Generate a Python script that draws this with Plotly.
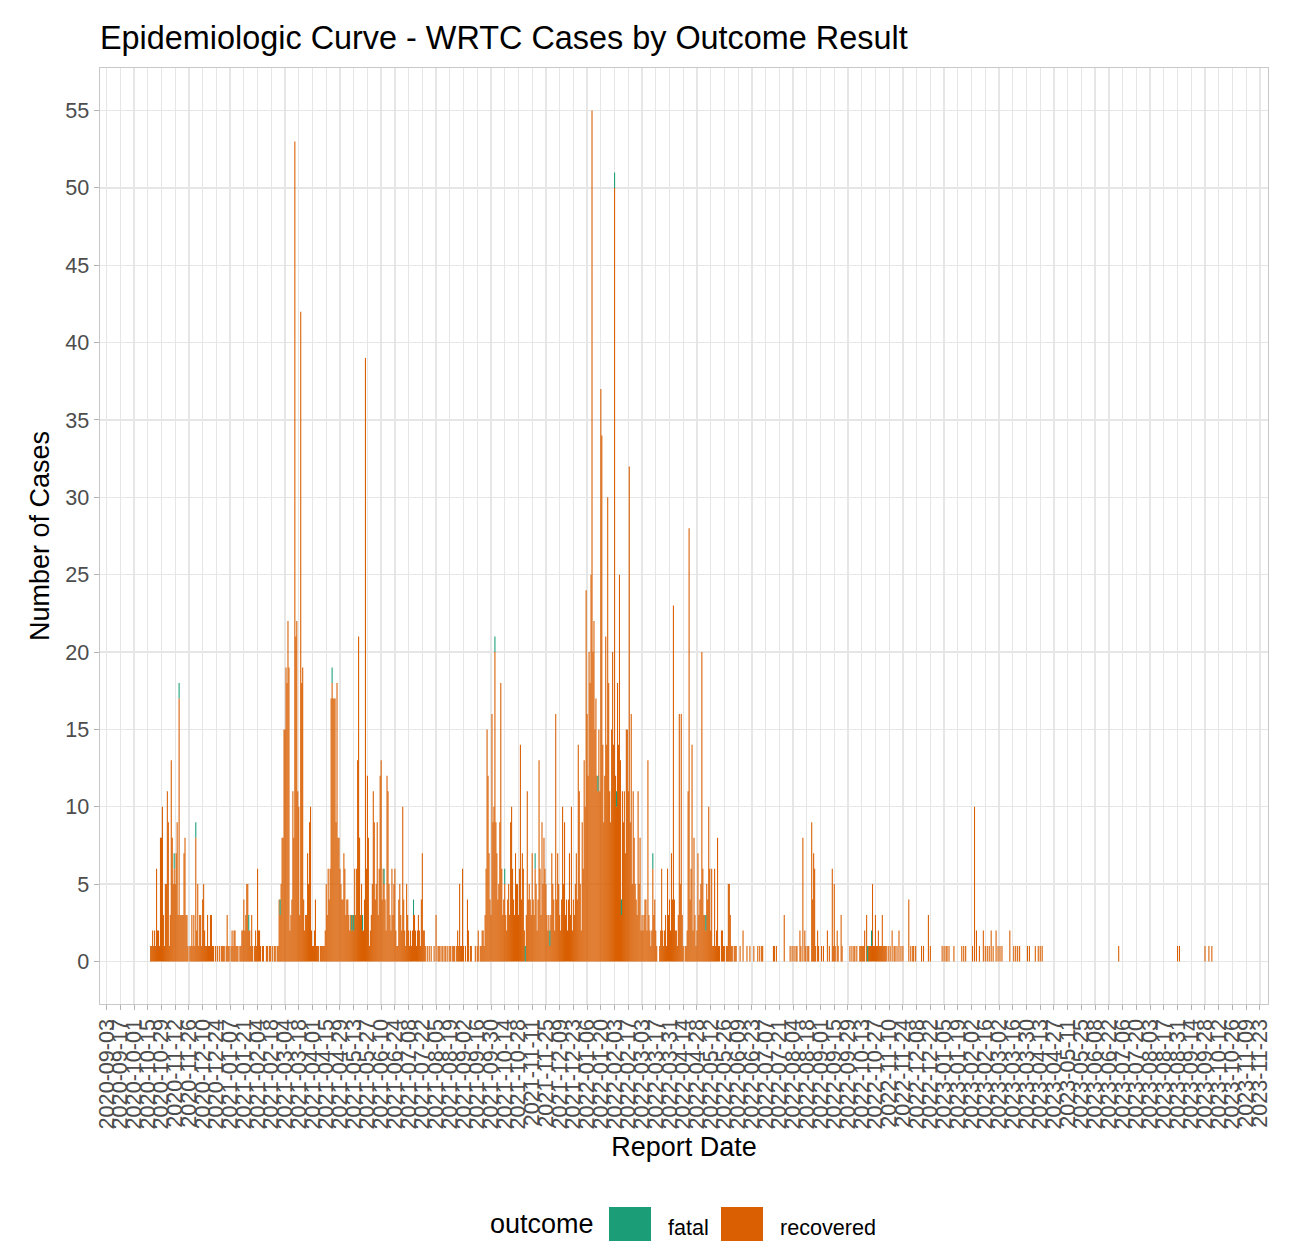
import pandas as pd
import plotly.graph_objects as go

# ---------------- data ----------------
# daily recovered counts, contiguous days starting at series_start
series_start = "2020-10-18"

recovered_wave1 = [
    1, 1, 2, 1, 2, 1, 6, 2, 2, 1,
    8, 8, 10, 3, 1, 5, 5, 11, 9, 1,
    3, 13, 8, 5, 6, 5, 7, 9, 3, 17,
    3, 3, 3, 3, 7, 8, 3, 3, 1, 0,
    1, 1, 3, 1, 3, 1, 8, 2, 5, 1,
    3, 3, 1, 4, 5, 2, 1, 1, 3, 1,
    1, 3, 3, 1, 1, 0, 1, 0, 1, 0,
    1, 0, 1, 1, 1, 1, 0, 1, 3, 1,
    1, 0, 1, 2, 1, 2, 2, 1, 1, 1,
    0, 1, 1, 2, 2, 4, 2, 3, 5, 5,
    2, 2, 1, 3, 1, 0, 1, 2, 1, 6,
    2, 2, 1, 0, 1, 1, 0, 0, 1, 1,
    0, 1, 1, 0, 1, 0, 1, 1, 0, 1,
    1, 4, 3,
]

recovered_wave2 = [
    5, 8, 8, 15, 15, 19, 18, 22, 19, 2,
    3, 4, 11, 8, 53, 21, 22, 11, 10, 3,
    42, 18, 19, 4, 2, 3, 3, 7, 5, 9,
    10, 2, 1, 1, 2, 4, 1, 1, 1, 0,
    1, 1, 1, 1, 1, 2, 5, 3, 6, 4,
    6, 17, 18, 17, 17, 17, 9, 18, 8, 8,
    6, 5, 4, 4, 7, 6, 3, 4, 4, 3,
    2, 3, 2, 3, 2, 6, 3, 6, 13, 21,
    8, 3, 5, 2, 2, 4, 39, 6, 12, 8,
    1, 2, 3, 5, 11, 9, 4, 5, 9, 3,
    6, 12, 13, 4, 6, 5, 4, 2, 12, 11,
    5, 3, 2, 6, 3, 5, 6, 2, 1, 1,
    4, 5, 3, 2, 10, 4, 2, 1, 5, 3,
    2, 1, 2, 1, 2, 3, 3, 2, 1, 2,
    3, 2, 1, 4, 7, 2, 2, 1, 0, 1,
    0, 1, 0, 1, 0, 0, 1, 0, 3, 0,
    1,
]

recovered_wave3 = [
    1, 1, 0, 1, 1, 0, 1, 1, 0, 1,
    0, 1, 1, 0, 1, 1, 1, 0, 1, 2,
    1, 5, 1, 1, 6, 1, 0, 1, 0, 4,
    2, 0, 1, 1, 0, 0, 0, 1, 0, 1,
    2, 0, 1, 1, 2, 2, 1, 3, 6, 15,
    12, 7, 4, 3, 16, 9, 10, 20, 9, 7,
    4, 5, 9, 18, 6, 3, 4, 5, 3, 2,
    4, 5, 3, 9, 10, 6, 4, 3, 7, 5,
    5, 3, 6, 14, 4, 7, 6, 2, 0, 3,
    11, 4, 5, 4, 3, 7, 4, 3, 6, 5,
    2, 4, 13, 6, 3, 9, 5, 8, 6, 5,
    3, 2, 3, 1, 3, 7, 5, 4, 2, 16,
    4, 7, 5, 3, 2, 4, 10, 5, 9, 3,
    4, 2, 4, 7, 3, 10, 2, 4, 3, 5,
    7, 4, 14, 11, 5, 2, 9, 6, 13, 10,
    24, 16,
]

recovered_wave4 = [
    12, 20, 18, 25, 55, 20, 22, 15, 17, 12,
    11, 15, 11, 37, 34, 14, 9, 12, 21, 14,
    30, 18, 11, 9, 15, 20, 14, 50, 12, 10,
    18, 14, 25, 13, 3, 11, 9, 11, 7, 15,
    15, 11, 32, 9, 16, 5, 11, 8, 5, 4,
    3, 11, 5, 8, 2, 3, 2, 3, 4, 4,
    2, 13, 3, 2, 1, 2, 6, 3, 4, 2,
    1, 0, 0, 1, 2, 6, 2, 1, 2, 3,
    1, 6, 3, 4, 2, 7, 4, 23, 4, 2,
    2, 1, 3, 16, 5, 16, 3, 1, 0, 1,
    1, 2, 11, 28, 4, 6, 14, 2, 8, 3,
    1, 2, 7, 3, 4, 5, 20, 6, 3, 3,
    2, 5, 4, 10, 6, 2, 6, 1, 1, 6,
    1, 2, 8, 1, 1, 0, 2, 2, 1, 1,
    0, 1, 1, 5, 5, 3, 1, 1, 0, 1,
    1, 1, 0, 0, 0, 1, 0, 0, 2, 0,
]

# sparse tail of recovered cases (report date, count)
tail_dates = [
    "2022-06-18", "2022-06-21", "2022-06-25", "2022-06-29", "2022-07-01", "2022-07-03",
    "2022-07-04", "2022-07-15", "2022-07-16", "2022-07-18", "2022-07-26", "2022-08-01",
    "2022-08-03", "2022-08-05", "2022-08-07", "2022-08-08", "2022-08-11", "2022-08-12",
    "2022-08-14", "2022-08-16", "2022-08-17", "2022-08-19", "2022-08-20", "2022-08-23",
    "2022-08-24", "2022-08-25", "2022-08-26", "2022-08-27", "2022-08-29", "2022-08-30",
    "2022-09-02", "2022-09-04", "2022-09-08", "2022-09-10", "2022-09-13", "2022-09-14",
    "2022-09-15", "2022-09-16", "2022-09-18", "2022-09-19", "2022-09-22", "2022-09-23",
    "2022-10-01", "2022-10-03", "2022-10-05", "2022-10-06", "2022-10-08", "2022-10-11",
    "2022-10-12", "2022-10-13", "2022-10-14", "2022-10-15", "2022-10-16", "2022-10-18",
    "2022-10-20", "2022-10-21", "2022-10-22", "2022-10-23", "2022-10-24", "2022-10-25",
    "2022-10-26", "2022-10-27", "2022-10-28", "2022-10-29", "2022-10-30", "2022-10-31",
    "2022-11-01", "2022-11-02", "2022-11-03", "2022-11-04", "2022-11-05", "2022-11-06",
    "2022-11-07", "2022-11-09", "2022-11-11", "2022-11-13", "2022-11-15", "2022-11-16",
    "2022-11-18", "2022-11-20", "2022-11-22", "2022-11-24", "2022-11-30", "2022-12-02",
    "2022-12-04", "2022-12-05", "2022-12-07", "2022-12-13", "2022-12-15", "2022-12-20",
    "2022-12-22", "2023-01-03", "2023-01-05", "2023-01-07", "2023-01-08", "2023-01-10",
    "2023-01-15", "2023-01-23", "2023-01-25", "2023-01-27", "2023-02-03", "2023-02-05",
    "2023-02-07", "2023-02-10", "2023-02-14", "2023-02-16", "2023-02-18", "2023-02-20",
    "2023-02-22", "2023-02-24", "2023-02-27", "2023-03-01", "2023-03-03", "2023-03-05",
    "2023-03-13", "2023-03-17", "2023-03-19", "2023-03-21", "2023-03-23", "2023-03-31",
    "2023-04-02", "2023-04-08", "2023-04-11", "2023-04-13", "2023-04-15", "2023-07-02",
    "2023-08-31", "2023-09-02", "2023-09-28", "2023-10-02", "2023-10-05",
]
tail_recovered = [
    1, 1, 1, 1, 1, 1,
    1, 1, 1, 1, 3, 1,
    1, 1, 1, 1, 2, 1,
    8, 2, 1, 1, 1, 9,
    4, 7, 6, 1, 2, 1,
    1, 1, 2, 1, 6, 1,
    5, 1, 2, 1, 3, 1,
    1, 1, 1, 1, 1, 1,
    1, 1, 1, 1, 2, 3,
    1, 1, 1, 1, 5, 1,
    1, 3, 1, 1, 2, 1,
    1, 1, 3, 1, 1, 1,
    1, 1, 1, 2, 1, 1,
    1, 2, 1, 1, 4, 1,
    1, 1, 1, 1, 1, 3,
    1, 1, 1, 1, 1, 1,
    1, 1, 1, 1, 1, 10,
    2, 1, 2, 1, 1, 1,
    2, 1, 2, 1, 1, 1,
    2, 1, 1, 1, 1, 1,
    1, 1, 1, 1, 1, 1,
    1, 1, 1, 1, 1,
]

# fatal cases (report date, count)
fatal_dates = [
    "2020-11-11", "2020-11-16", "2020-12-03", "2021-01-26", "2021-02-27",
    "2021-04-21", "2021-05-11", "2021-05-13", "2021-05-22", "2021-06-13",
    "2021-07-13", "2021-10-04", "2021-10-14", "2021-11-04", "2021-11-14",
    "2021-11-29", "2022-01-17", "2022-02-03", "2022-02-05", "2022-02-10",
    "2022-03-14", "2022-05-07", "2022-10-19", "2022-10-23",
]
fatal_counts = [
    1, 1, 1, 1, 1,
    1, 1, 1, 1, 1,
    1, 1, 1, 1, 1,
    1, 1, 1, 1, 1,
    1, 1, 1, 1,
]

outcome_names = ["fatal", "recovered"]
outcome_colors = ["#1B9E77", "#D95F02"]

tick_start = "2020-09-03"
x_limits = ["2020-08-27 08:00", "2023-12-01 06:00"]
y_ticks = [0, 5, 10, 15, 20, 25, 30, 35, 40, 45, 50, 55]

# ---------------- build ----------------
daily = recovered_wave1 + recovered_wave2 + recovered_wave3 + recovered_wave4
daily_dates = pd.date_range(series_start, periods=len(daily), freq="D").strftime("%Y-%m-%d").tolist()
rec_x = daily_dates + tail_dates
rec_y = daily + tail_recovered

FONT = "Liberation Sans, Arial, sans-serif"
DAY_MS = 24 * 3600 * 1000
BAR_W = 1.1 * DAY_MS

fig = go.Figure()
fig.add_trace(go.Bar(x=rec_x, y=rec_y, name=outcome_names[1], width=BAR_W,
                     marker=dict(color=outcome_colors[1], line=dict(width=0)),
                     showlegend=False))
fig.add_trace(go.Bar(x=fatal_dates, y=fatal_counts, name=outcome_names[0], width=BAR_W,
                     marker=dict(color=outcome_colors[0], line=dict(width=0)),
                     showlegend=False))

W, H = 1296, 1241
ML, MR, MT, MB = 100, 28, 68, 237
PW, PH = W - ML - MR, H - MT - MB

def px_to_paper_x(px):
    return (px - ML) / PW

def px_to_paper_y(py):
    return (H - MB - py) / PH

fig.update_layout(
    width=W, height=H,
    margin=dict(l=ML, r=MR, t=MT, b=MB),
    paper_bgcolor="white", plot_bgcolor="white",
    barmode="stack", bargap=0.0,
    font=dict(family=FONT, color="black"),
    title=dict(text="Epidemiologic Curve - WRTC Cases by Outcome Result",
               x=px_to_paper_x(100), xref="paper", xanchor="left",
               y=1 - 38 / H, yanchor="middle",
               font=dict(size=32.4, color="black", family=FONT)),
    showlegend=False,
)

fig.update_xaxes(
    type="date", range=x_limits,
    tickmode="linear", tick0=tick_start, dtick=14 * DAY_MS,
    tickformat="%Y-%m-%d", tickangle=-90,
    tickfont=dict(size=21.6, color="#4D4D4D", family=FONT),
    ticks="outside", ticklen=5, tickcolor="#B3B3B3", tickwidth=1,
    showgrid=True, gridcolor="#E6E6E6", gridwidth=1.3,
    showline=True, linecolor="#C8C8C8", linewidth=1.3, mirror=True,
    zeroline=False,
    title=dict(text="Report Date", font=dict(size=27, color="black", family=FONT), standoff=8),
)
fig.update_yaxes(
    range=[-2.75, 57.75], tickmode="array", tickvals=y_ticks,
    tickfont=dict(size=21.6, color="#4D4D4D", family=FONT),
    ticks="outside", ticklen=5, tickcolor="#B3B3B3", tickwidth=1,
    showgrid=True, gridcolor="#E6E6E6", gridwidth=1.3,
    showline=True, linecolor="#C8C8C8", linewidth=1.3, mirror=True,
    zeroline=False,
    title=dict(text="Number of Cases", font=dict(size=27, color="black", family=FONT), standoff=8),
)

# legend drawn at the bottom (title + large colour keys)
key_top, key_bot = 1207, 1249
keys = [(609, 651), (721, 763)]
for (x0, x1), col in zip(keys, [outcome_colors[0], outcome_colors[1]]):
    fig.add_shape(type="rect", xref="paper", yref="paper",
                  x0=px_to_paper_x(x0), x1=px_to_paper_x(x1),
                  y0=px_to_paper_y(key_bot), y1=px_to_paper_y(key_top),
                  fillcolor=col, line=dict(width=0), layer="above")
fig.add_annotation(text="outcome", xref="paper", yref="paper", x=px_to_paper_x(596),
                   y=px_to_paper_y(1224),
                   xanchor="right", yanchor="middle", showarrow=False,
                   font=dict(size=27, color="black", family=FONT))
fig.add_annotation(text=outcome_names[0], xref="paper", yref="paper", x=px_to_paper_x(666),
                   y=px_to_paper_y(1227),
                   xanchor="left", yanchor="middle", showarrow=False,
                   font=dict(size=21.6, color="black", family=FONT))
fig.add_annotation(text=outcome_names[1], xref="paper", yref="paper", x=px_to_paper_x(778),
                   y=px_to_paper_y(1227),
                   xanchor="left", yanchor="middle", showarrow=False,
                   font=dict(size=21.6, color="black", family=FONT))

post = (
    "document.body.style.margin='0px';"
    "document.querySelectorAll('.barlayer path').forEach(function(p){"
    "p.style.shapeRendering='geometricPrecision';});"
)
fig.write_html("out.html", config={"staticPlot": True}, post_script=post)
